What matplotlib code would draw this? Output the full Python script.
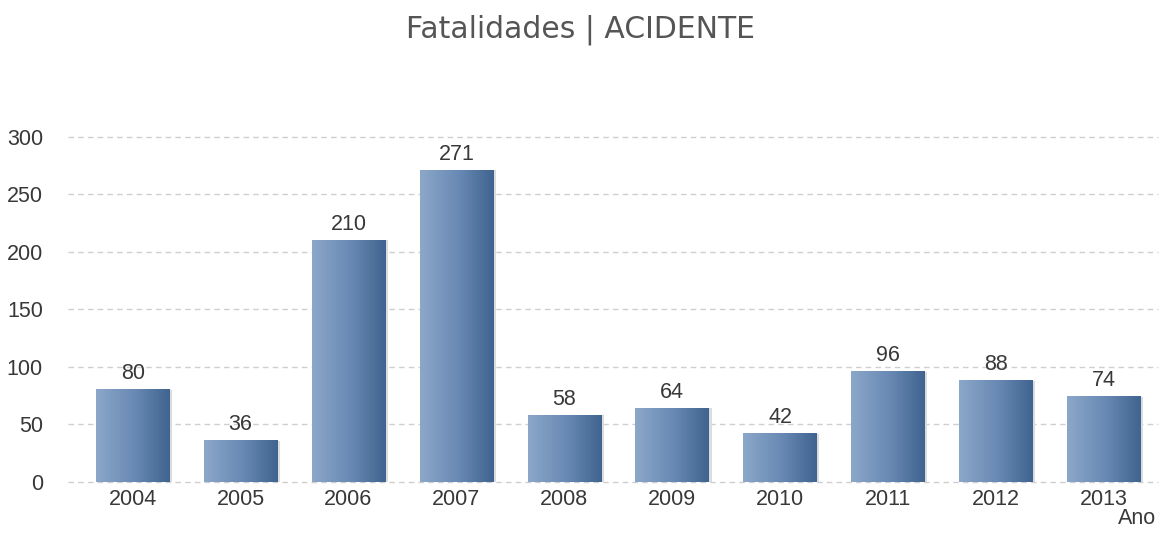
import numpy as np
import matplotlib.pyplot as plt
from matplotlib.colors import LinearSegmentedColormap

plt.rcParams['font.family'] = ['Liberation Sans', 'DejaVu Sans']

# data
anos = ['2004', '2005', '2006', '2007', '2008', '2009', '2010', '2011', '2012', '2013']
fatalidades = [80, 36, 210, 271, 58, 64, 42, 96, 88, 74]

fig = plt.figure(figsize=(11.6, 5.37), dpi=100)
ax = fig.add_axes([0.0586, 0.1024, 0.9394, 0.6426])

cmap = LinearSegmentedColormap.from_list('barra', ['#8ca7c9', '#6a8bb5', '#3f648f'])
grad = np.linspace(0, 1, 256).reshape(1, -1)
largura = 0.68

bars = ax.bar(range(len(anos)), fatalidades, width=largura, color='none', zorder=3)
for i, (b, v) in enumerate(zip(bars, fatalidades)):
    x0 = b.get_x()
    # soft shadow on the right
    ax.bar(i + 0.025, v, width=largura, color='#dcdcdc', zorder=2)
    ax.imshow(grad, cmap=cmap, aspect='auto', extent=(x0, x0 + largura, 0, v), zorder=3)
    ax.text(i, v + 5, str(v), ha='center', va='bottom', fontsize=15.5, color='#383838')

ax.set_xlim(-0.6, 9.5)
ax.set_ylim(0, 300)
ax.set_yticks([0, 50, 100, 150, 200, 250, 300])
ax.set_xticks(range(len(anos)))
ax.set_xticklabels(anos)
ax.yaxis.grid(True, linestyle=(0, (4, 3)), color='#cfcfcf', linewidth=1, zorder=0)
for gl in ax.get_ygridlines():
    gl.set_clip_on(False)
ax.set_axisbelow(True)
for s in ax.spines.values():
    s.set_visible(False)
ax.tick_params(length=0, labelsize=15.5, colors='#383838', pad=5)
ax.tick_params(axis='y', pad=18)

fig.text(0.5, 0.945, 'Fatalidades | ACIDENTE', ha='center', va='center', fontsize=21.5,
         color='#555555', family='DejaVu Sans')
fig.text(0.997, 0.015, 'Ano', ha='right', va='bottom', fontsize=15.5, color='#383838')

fig.savefig('out.png', dpi=100)
